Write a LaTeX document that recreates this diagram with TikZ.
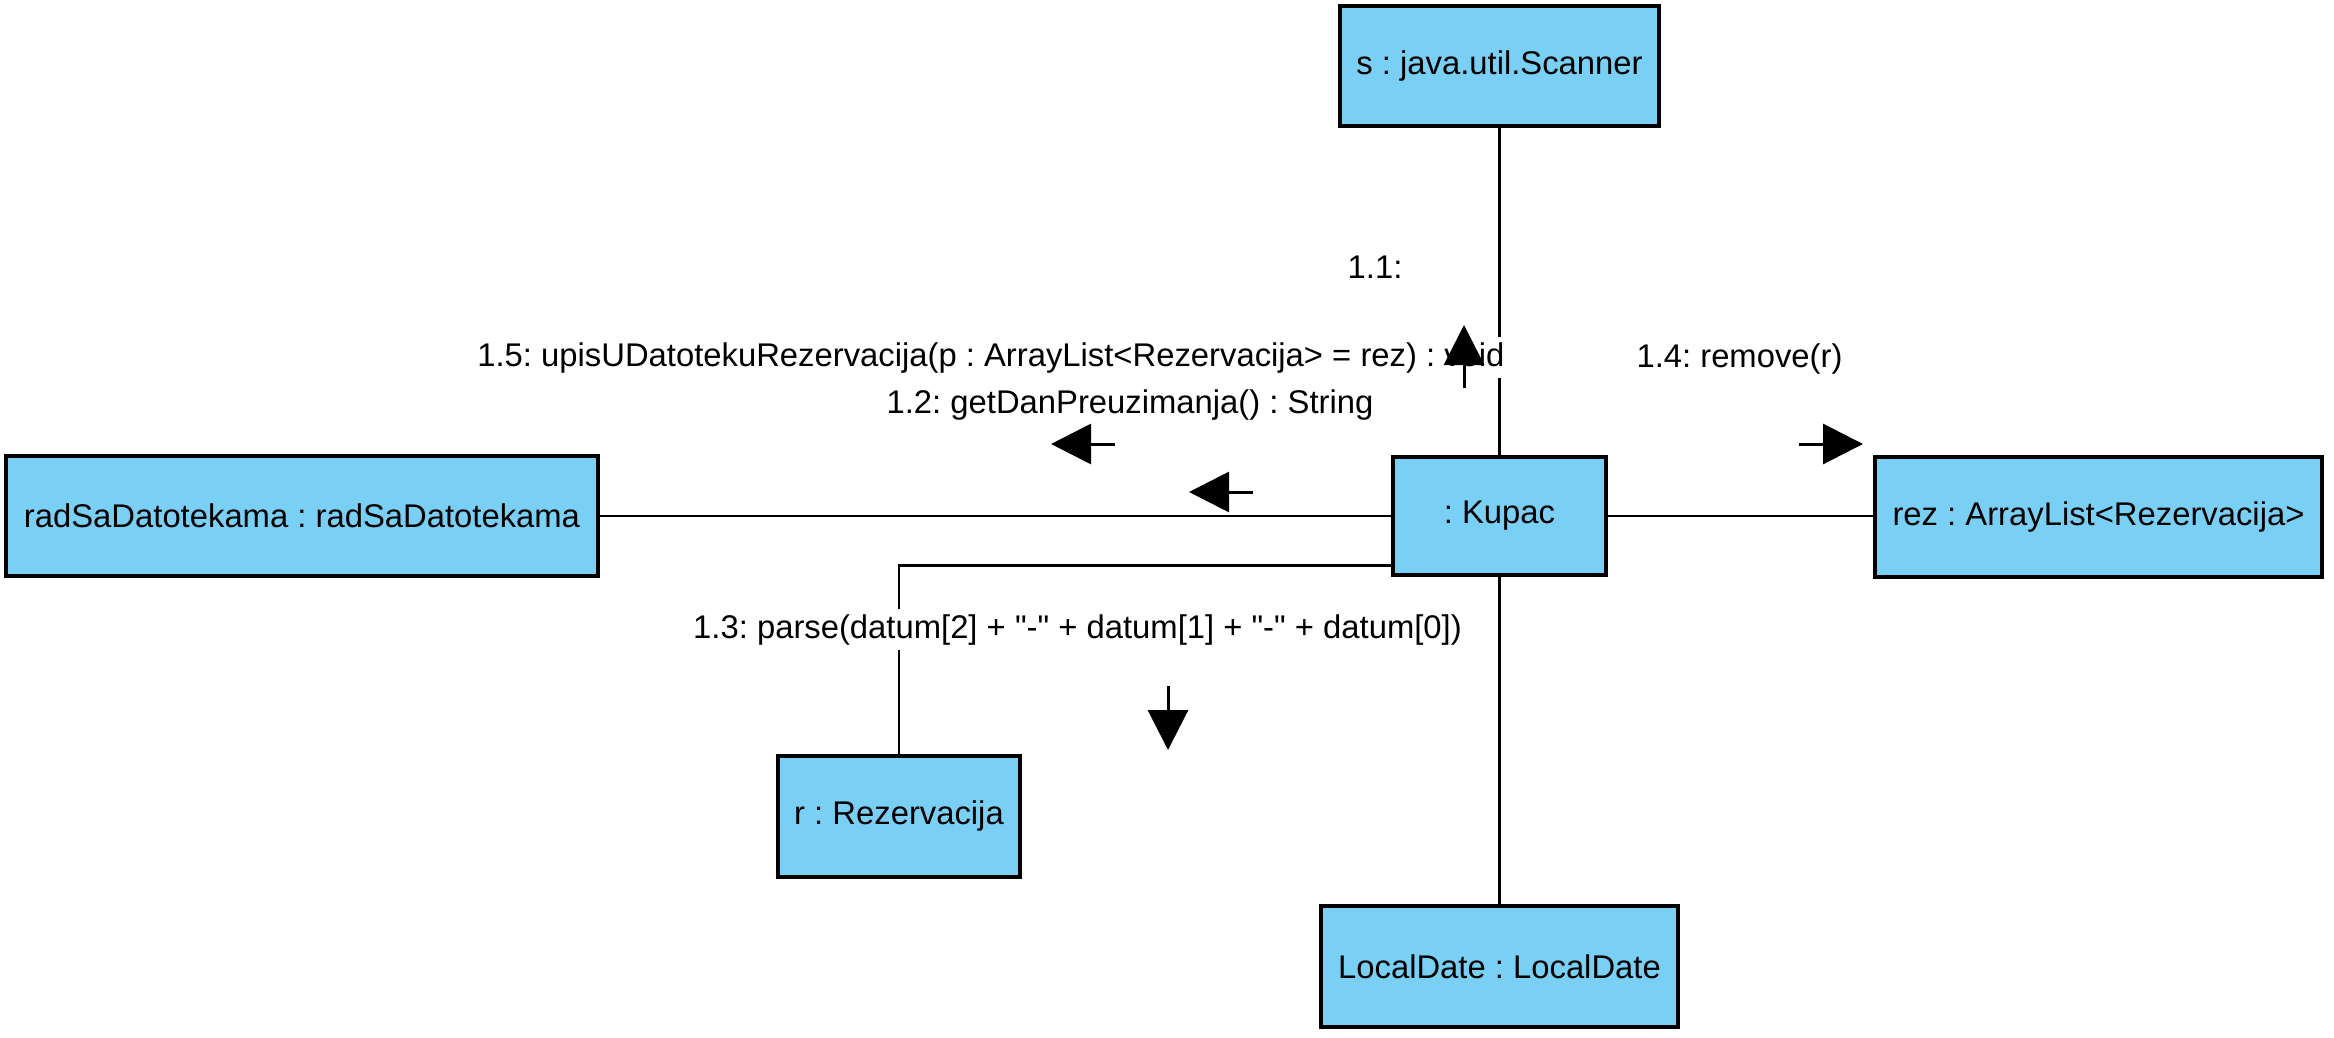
\documentclass[tikz,border=0pt]{standalone}
\usepackage{fontspec}
\setmainfont{Liberation Sans}[Ligatures=TeXOff]
\usetikzlibrary{arrows.meta}
\definecolor{objfill}{RGB}{122,207,245}
\frenchspacing
\tikzset{
  obj/.style={draw=black, line width=1.7pt, fill=objfill, inner sep=0pt, minimum height=60pt, align=center},
  conn/.style={draw=black, line width=1.4pt},
  msg/.style={fill=white, inner sep=2.5pt, anchor=base},
  msgarrow/.style={draw=black, line width=1.5pt, -{Triangle[length=20pt,width=20pt]}}
}
\begin{document}
\begin{tikzpicture}[x=0.5pt, y=-0.5pt, font=\fontsize{16.4pt}{19pt}\selectfont]
\useasboundingbox (0,0) rectangle (2334,1038);
% objects
\node[obj, minimum width=159.5pt] (scanner) at (1499.5,66) {s : java.util.Scanner};
\node[obj, minimum width=106.5pt, minimum height=59pt] (kupac) at (1499.5,516) {: Kupac};
\node[obj, minimum width=223.5pt] (rez) at (2098.5,517) {rez : ArrayList<Rezervacija>};
\node[obj, minimum width=296pt] (rad) at (302,516) {radSaDatotekama : radSaDatotekama};
\node[obj, minimum width=121pt, minimum height=60.5pt] (r) at (899,816.5) {r : Rezervacija};
\node[obj, minimum width=178.5pt, minimum height=60.5pt] (ld) at (1499.5,966.5) {LocalDate : LocalDate};
% links
\draw[conn] (scanner.south) -- (kupac.north);
\draw[conn] (rad.east) -- (rad.east -| kupac.west);
\draw[conn] (kupac.east) -- (kupac.east -| rez.west);
\draw[conn] (kupac.south) -- (ld.north);
\draw[conn] ([yshift=5.5pt]kupac.south west) -| (r.north);
% message labels
\node[msg] (l11) at (1375,278) {1.1:};
\node[msg] (l15) at (991,366) {1.5: upisUDatotekuRezervacija(p : ArrayList<Rezervacija> = rez) : void};
\node[msg] (l12) at (1130,413) {1.2: getDanPreuzimanja() : String};
\node[msg] (l14) at (1739.5,367) {1.4: remove(r)};
\node[msg] (l13) at (1077.5,638) {1.3: parse(datum[2] + "-" + datum[1] + "-" + datum[0])};
% message arrows
\coordinate (a11t) at (1464,388); \coordinate (a11h) at (1464,325);
\coordinate (a15t) at (1115,444); \coordinate (a15h) at (1051,444);
\coordinate (a12t) at (1253,492); \coordinate (a12h) at (1189,492);
\coordinate (a14t) at (1799,444); \coordinate (a14h) at (1863,444);
\coordinate (a13t) at (1168,686); \coordinate (a13h) at (1168,750);
\draw[msgarrow] (a11t) -- (a11h);
\draw[msgarrow] (a15t) -- (a15h);
\draw[msgarrow] (a12t) -- (a12h);
\draw[msgarrow] (a14t) -- (a14h);
\draw[msgarrow] (a13t) -- (a13h);
\end{tikzpicture}
\end{document}
